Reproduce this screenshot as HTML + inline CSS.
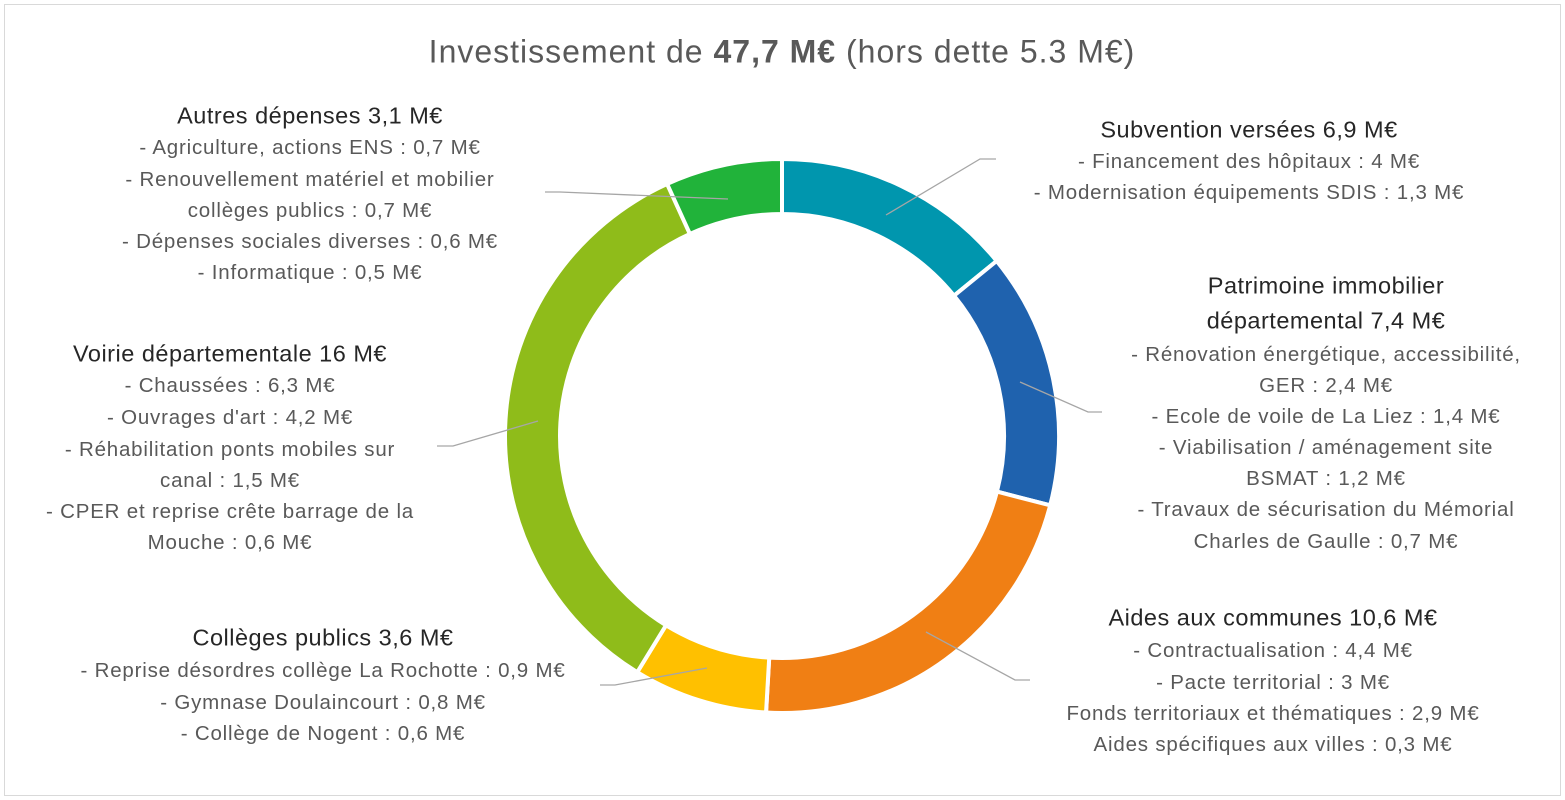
<!DOCTYPE html>
<html><head><meta charset="utf-8"><style>
body{margin:0;width:1565px;height:800px;background:#fff;position:relative;overflow:hidden;font-family:"Liberation Sans",sans-serif}
.frame{position:absolute;left:4px;top:4px;width:1555px;height:790px;border:1px solid #d9d9d9}
.t{position:absolute;white-space:nowrap;transform:translate(-50%,-50%);color:#595959;font-size:20.5px;letter-spacing:0.8px}
.h{color:#262626;font-size:23.5px;letter-spacing:0.5px}
</style></head><body>
<div class="frame"></div>
<svg id="s" width="1565" height="800" style="position:absolute;left:0;top:0">
<g stroke="#a6a6a6" stroke-width="1.3" fill="none">
<polyline points="886,215 980,159 996,159"/>
<polyline points="1020,382 1088,412 1102,412"/>
<polyline points="926,632 1015,680 1030,680"/>
<polyline points="707,668 615,685 600,685"/>
<polyline points="538,421 453,446 437,446"/>
<polyline points="728,199 560,192 545,192"/>
</g>
</svg>
<script>
var cx=782,cy=436,R=277,r=222,bnd=[0,50.8,104.5,183.3,211.5,335.5,360],cols=["#0096AE","#1F62AE","#F07F14","#FFC000","#8FBC1A","#21B33A"];
var s=document.getElementById('s'),h='';
function p(rad,ang){return [cx+rad*Math.sin(ang),cy-rad*Math.cos(ang)];}
cols.forEach(function(c,i){var a0=bnd[i]*Math.PI/180,a1=bnd[i+1]*Math.PI/180;var lg=(a1-a0)>Math.PI?1:0;
var A=p(R,a0),B=p(R,a1),C=p(r,a1),D=p(r,a0);
h+='<path d="M'+A+' A'+R+' '+R+' 0 '+lg+' 1 '+B+' L'+C+' A'+r+' '+r+' 0 '+lg+' 0 '+D+' Z" fill="'+c+'" stroke="#fff" stroke-width="4"/>';});
s.innerHTML=h+s.innerHTML;
</script>
<div class="t" style="left:782px;top:52px;font-size:32px;letter-spacing:1px;color:#595959">Investissement de <b>47,7 M€</b> (hors dette 5.3 M€)</div>

<div class="t h" style="left:1249px;top:130px">Subvention versées 6,9 M€</div>
<div class="t" style="left:1249px;top:162px">- Financement des hôpitaux : 4 M€</div>
<div class="t" style="left:1249px;top:193px">- Modernisation équipements SDIS : 1,3 M€</div>

<div class="t h" style="left:1326px;top:286px">Patrimoine immobilier</div>
<div class="t h" style="left:1326px;top:321px">départemental 7,4 M€</div>
<div class="t" style="left:1326px;top:355px">- Rénovation énergétique, accessibilité,</div>
<div class="t" style="left:1326px;top:386px">GER : 2,4 M€</div>
<div class="t" style="left:1326px;top:417px">- Ecole de voile de La Liez : 1,4 M€</div>
<div class="t" style="left:1326px;top:448px">- Viabilisation / aménagement site</div>
<div class="t" style="left:1326px;top:479px">BSMAT : 1,2 M€</div>
<div class="t" style="left:1326px;top:510px">- Travaux de sécurisation du Mémorial</div>
<div class="t" style="left:1326px;top:542px">Charles de Gaulle : 0,7 M€</div>

<div class="t h" style="left:1273px;top:618px">Aides aux communes 10,6 M€</div>
<div class="t" style="left:1273px;top:651px">- Contractualisation : 4,4 M€</div>
<div class="t" style="left:1273px;top:683px">- Pacte territorial : 3 M€</div>
<div class="t" style="left:1273px;top:714px">Fonds territoriaux et thématiques : 2,9 M€</div>
<div class="t" style="left:1273px;top:745px">Aides spécifiques aux villes : 0,3 M€</div>

<div class="t h" style="left:323px;top:638px">Collèges publics 3,6 M€</div>
<div class="t" style="left:323px;top:671px">- Reprise désordres collège La Rochotte : 0,9 M€</div>
<div class="t" style="left:323px;top:703px">- Gymnase Doulaincourt : 0,8 M€</div>
<div class="t" style="left:323px;top:734px">- Collège de Nogent : 0,6 M€</div>

<div class="t h" style="left:230px;top:354px">Voirie départementale 16 M€</div>
<div class="t" style="left:230px;top:386px">- Chaussées : 6,3 M€</div>
<div class="t" style="left:230px;top:418px">- Ouvrages d'art : 4,2 M€</div>
<div class="t" style="left:230px;top:450px">- Réhabilitation ponts mobiles sur</div>
<div class="t" style="left:230px;top:481px">canal : 1,5 M€</div>
<div class="t" style="left:230px;top:512px">- CPER et reprise crête barrage de la</div>
<div class="t" style="left:230px;top:543px">Mouche : 0,6 M€</div>

<div class="t h" style="left:310px;top:116px">Autres dépenses 3,1 M€</div>
<div class="t" style="left:310px;top:148px">- Agriculture, actions ENS : 0,7 M€</div>
<div class="t" style="left:310px;top:180px">- Renouvellement matériel et mobilier</div>
<div class="t" style="left:310px;top:211px">collèges publics : 0,7 M€</div>
<div class="t" style="left:310px;top:242px">- Dépenses sociales diverses : 0,6 M€</div>
<div class="t" style="left:310px;top:273px">- Informatique : 0,5 M€</div>
</body></html>
